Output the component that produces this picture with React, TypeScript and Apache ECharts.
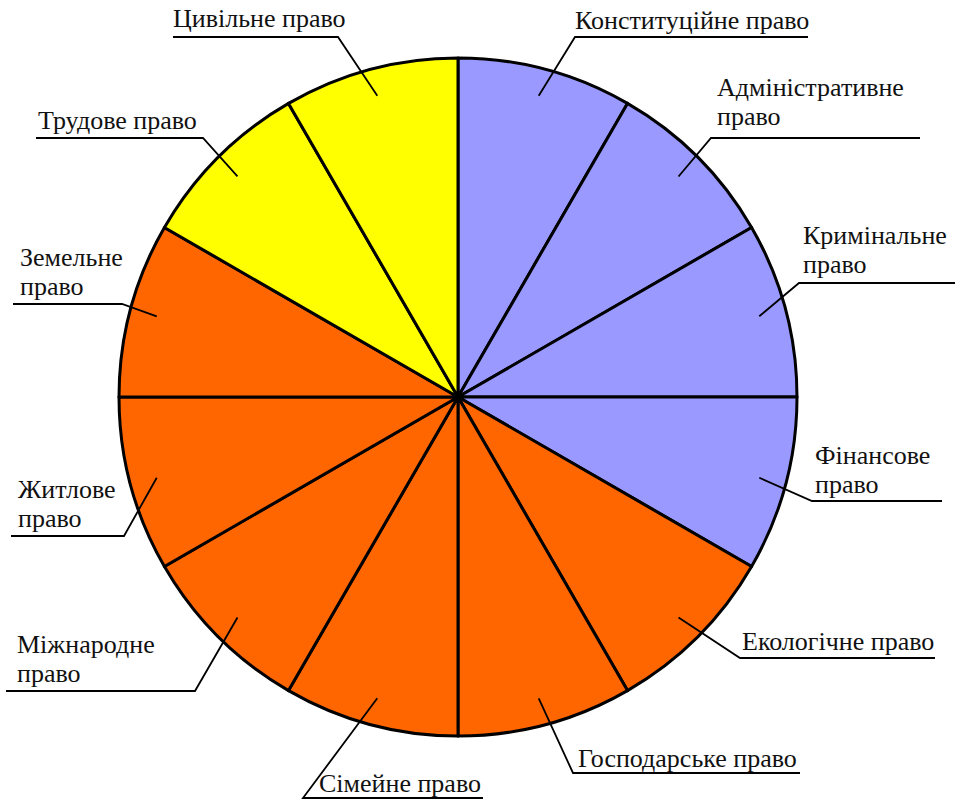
import React, { useEffect, useRef } from "react";
import * as echarts from "echarts";

const categories = [
  "Конституційне право",
  "Адміністративне\nправо",
  "Кримінальне\nправо",
  "Фінансове\nправо",
  "Екологічне право",
  "Господарське право",
  "Сімейне право",
  "Міжнародне\nправо",
  "Житлове\nправо",
  "Земельне\nправо",
  "Трудове право",
  "Цивільне право",
];
const values = [1, 1, 1, 1, 1, 1, 1, 1, 1, 1, 1, 1];
const groupOf = [0, 0, 0, 0, 1, 1, 1, 1, 1, 1, 2, 2];
const groupColors = ["#9999FF", "#FF6600", "#FFFF00"];

// label layout: [elbowX, underlineY, underlineEndX, textLeftX, lastBaselineY]
const labelPlaces: number[][] = [
  [575, 37, 808, 575, 29],
  [711, 138, 920, 717, 125],
  [799, 283, 955, 803, 273],
  [812, 501, 942, 815, 493],
  [740, 658, 935, 742, 650],
  [573, 773, 800, 578, 767],
  [303, 798, 483, 319, 792],
  [195, 691, 6, 17, 682],
  [124, 536, 11, 18, 527],
  [122, 304, 13, 20, 295],
  [203, 138, 36, 38, 129],
  [338, 37, 173, 173, 27],
];

const CX = 458;
const CY = 397;
const R = 339;
const FONT = 26;
const LH = 29;

export default function App() {
  const ref = useRef<HTMLDivElement>(null);
  useEffect(() => {
    if (!ref.current) return;
    const chart = echarts.init(ref.current, null, { renderer: "svg" });
    const n = values.length;
    const total = values.reduce((a, b) => a + b, 0);
    const mids: number[] = [];
    let acc = 0;
    for (let i = 0; i < n; i++) {
      mids.push(((acc + values[i] / 2) / total) * Math.PI * 2);
      acc += values[i];
    }
    const pieData = categories.map((name, i) => ({
      name,
      value: values[i],
      itemStyle: { color: groupColors[groupOf[i]] },
    }));
    chart.setOption({
      animation: false,
      backgroundColor: "#ffffff",
      series: [
        {
          type: "pie",
          z: 1,
          center: [CX, CY],
          radius: [0, R],
          startAngle: 90,
          clockwise: true,
          silent: true,
          data: pieData,
          itemStyle: { borderColor: "#000", borderWidth: 3 },
          emphasis: { disabled: true },
          label: { show: false },
          labelLine: { show: false },
        },
        {
          type: "pie",
          z: 5,
          center: [CX, CY],
          radius: [0, R],
          startAngle: 90,
          clockwise: true,
          silent: true,
          avoidLabelOverlap: false,
          data: categories.map((name, i) => ({ name, value: values[i] })),
          itemStyle: { color: "rgba(0,0,0,0)", borderWidth: 0 },
          emphasis: { disabled: true },
          label: {
            show: true,
            position: "outside",
            formatter: "{b}",
            fontFamily: "Liberation Serif",
            fontSize: FONT,
            lineHeight: LH,
            color: "#111",
          },
          labelLine: {
            show: true,
            lineStyle: { color: "#000", width: 1.8 },
          },
          labelLayout: (params: any) => {
            const i = params.dataIndex;
            const p = labelPlaces[i];
            const a = mids[i];
            const rs = R * 0.92;
            const sx = CX + rs * Math.sin(a);
            const sy = CY - rs * Math.cos(a);
            return {
              x: p[3],
              y: p[4] + 6,
              align: "left",
              verticalAlign: "bottom",
              labelLinePoints: [
                [sx, sy],
                [p[0], p[1]],
                [p[2], p[1]],
              ],
            };
          },
        },
      ],
    });
    return () => chart.dispose();
  }, []);
  return (
    <div
      ref={ref}
      style={{ position: "fixed", left: 0, top: 0, width: 962, height: 801 }}
    />
  );
}
